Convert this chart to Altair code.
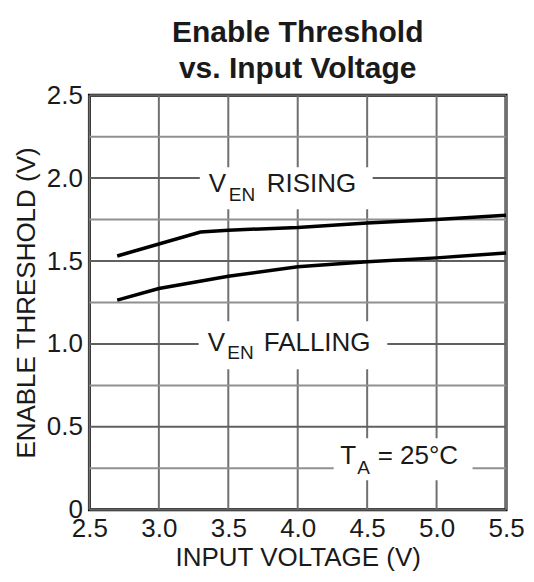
import altair as alt
import pandas as pd

# ---- data ----
vin = [2.7, 3.3, 3.5, 4.0, 4.5, 5.0, 5.5]
rising = [1.53, 1.675, 1.686, 1.702, 1.73, 1.75, 1.776]
vin_f = [2.7, 3.0, 3.5, 4.0, 4.5, 5.0, 5.5]
falling = [1.264, 1.334, 1.408, 1.465, 1.495, 1.519, 1.549]

x_ticks = [2.5, 3.0, 3.5, 4.0, 4.5, 5.0, 5.5]
y_ticks = [0, 0.5, 1.0, 1.5, 2.0, 2.5]
y_minor = [0.25, 0.75, 1.25, 1.75, 2.25]

FONT = "Liberation Sans"
TXT = "#1a1a1a"

curves = pd.DataFrame(
    {"vin": vin + vin_f,
     "ven": rising + falling,
     "series": ["Rising"] * len(vin) + ["Falling"] * len(vin_f)}
)

# annotation label boxes (white background) and text pieces, in data units
boxes = pd.DataFrame({
    "x": [3.295, 3.287, 4.259],
    "x2": [4.54, 4.645, 5.259],
    "y": [2.066, 1.137, 0.431],
    "y2": [1.812, 0.847, 0.178],
})
labels_big = pd.DataFrame({
    "x": [3.36, 3.777, 3.353, 3.755, 4.307, 4.576],
    "y": [1.915, 1.915, 0.960, 0.960, 0.278, 0.278],
    "t": ["V", "RISING", "V", "FALLING", "T", "= 25°C"],
})
labels_sub = pd.DataFrame({
    "x": [3.504, 3.493, 4.429],
    "y": [1.861, 0.908, 0.216],
    "t": ["EN", "EN", "A"],
})

xs = alt.Scale(domain=[2.5, 5.5], nice=False, zero=False)
ys = alt.Scale(domain=[0, 2.5], nice=False, zero=False)

vgrid = alt.Chart(pd.DataFrame({"v": x_ticks})).mark_rule(
    color="#707070", strokeWidth=2
).encode(x=alt.X("v:Q", scale=xs,
                 axis=alt.Axis(values=x_ticks, format=".1f",
                               title="INPUT VOLTAGE (V)")))

hgrid = alt.Chart(pd.DataFrame({"v": y_ticks})).mark_rule(
    color="#606060", strokeWidth=2
).encode(y=alt.Y("v:Q", scale=ys,
                 axis=alt.Axis(values=y_ticks,
                               labelExpr="datum.value == 0 ? '0' : format(datum.value, '.1f')",
                               title="ENABLE THRESHOLD (V)")))

hminor = alt.Chart(pd.DataFrame({"v": y_minor})).mark_rule(
    color="#909090", strokeWidth=2
).encode(y=alt.Y("v:Q", scale=ys))

rects = alt.Chart(boxes).mark_rect(fill="white").encode(
    x=alt.X("x:Q", scale=xs), x2="x2:Q",
    y=alt.Y("y:Q", scale=ys), y2="y2:Q")

lines = alt.Chart(curves).mark_line(color="black", strokeWidth=3.5).encode(
    x=alt.X("vin:Q", scale=xs),
    y=alt.Y("ven:Q", scale=ys),
    detail="series:N")

big = alt.Chart(labels_big).mark_text(
    font=FONT, fontSize=26, color=TXT, align="left", baseline="alphabetic"
).encode(x=alt.X("x:Q", scale=xs), y=alt.Y("y:Q", scale=ys), text="t:N")

sub = alt.Chart(labels_sub).mark_text(
    font=FONT, fontSize=19, color=TXT, align="left", baseline="alphabetic"
).encode(x=alt.X("x:Q", scale=xs), y=alt.Y("y:Q", scale=ys), text="t:N")

chart = alt.layer(vgrid, hgrid, hminor, rects, lines, big, sub).properties(
    width=417,
    height=415,
    autosize=alt.AutoSizeParams(type="none"),
    padding={"left": 81.5, "top": 87, "right": 20, "bottom": 64},
    title=alt.TitleParams(
        ["Enable Threshold", "vs. Input Voltage"],
        font=FONT, fontSize=30, fontWeight="bold", color=TXT,
        anchor="middle", frame="group", offset=-2, lineHeight=36,
    ),
).configure_view(
    stroke="black", strokeWidth=3
).configure_axis(
    domain=False, ticks=False, grid=False,
    labelFont=FONT, labelFontSize=26, labelColor=TXT,
    labelFlush=False, labelOverlap=False, labelBound=False,
    titleFont=FONT, titleFontSize=26, titleColor=TXT, titleFontWeight="normal",
).configure_axisX(
    labelPadding=6, titlePadding=3
).configure_axisY(
    labelPadding=7, titlePadding=7
)

chart.save("out.html", embed_options={"renderer": "svg", "actions": False})
